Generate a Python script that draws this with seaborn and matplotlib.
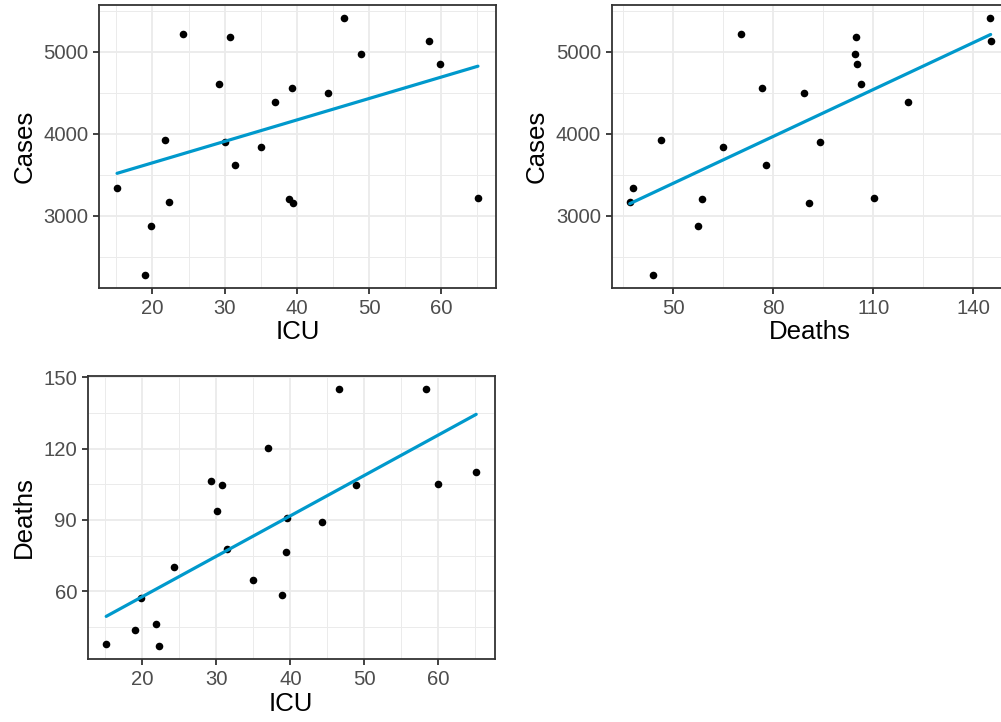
import numpy as np
import pandas as pd
import matplotlib
matplotlib.use("Agg")
import matplotlib.pyplot as plt
import seaborn as sns

# values
icu = [15.1, 19.0, 19.8, 21.8, 22.3, 24.2, 29.2, 30.1, 30.7, 31.4, 35.0,
       37.0, 38.9, 39.5, 39.4, 44.3, 46.6, 48.9, 58.3, 59.9, 65.1]
cases = [3337, 2274, 2878, 3919, 3166, 5215, 4606, 3903, 5178, 3611, 3834,
         4381, 3199, 3158, 4560, 4491, 5414, 4976, 5130, 4854, 3211]
deaths = [37.8, 43.8, 57.3, 46.2, 36.9, 70.3, 106.4, 93.9, 104.8, 77.9, 65.0,
          120.4, 58.5, 90.7, 76.5, 89.3, 145.0, 104.5, 145.2, 105.0, 110.2]

df = pd.DataFrame({"ICU": icu, "Cases": cases, "Deaths": deaths})

sns.set_theme(style="white")
plt.rcParams["font.family"] = ["Liberation Sans", "DejaVu Sans"]

LINE = "#0099CC"
W, H = 1001, 722
fig = plt.figure(figsize=(W / 100, H / 100), dpi=100)


def panel(rect, x, y, xmaj, xmin, ymaj, ymin):
    l, t, w, h = rect
    ax = fig.add_axes([l / W, 1 - (t + h) / H, w / W, h / H])
    sns.regplot(data=df, x=x, y=y, ax=ax, ci=None, truncate=True,
                scatter_kws=dict(color="black", s=30, alpha=1, linewidths=0, zorder=3),
                line_kws=dict(color=LINE, lw=2.3, zorder=4))
    ax.margins(0.05)
    ax.set_xticks(xmaj)
    ax.set_xticks(xmin, minor=True)
    ax.set_yticks(ymaj)
    ax.set_yticks(ymin, minor=True)
    ax.grid(True, which="major", color="#EBEBEB", lw=1.3, zorder=0)
    ax.grid(True, which="minor", color="#EBEBEB", lw=0.7, zorder=0)
    ax.set_axisbelow(True)
    for s in ax.spines.values():
        s.set_color("#333333")
        s.set_linewidth(1.3)
    ax.tick_params(which="major", length=4.5, width=1.3, color="#333333",
                   labelsize=14.6, labelcolor="#4D4D4D", pad=3.2,
                   left=True, bottom=True)
    ax.tick_params(which="minor", length=0)
    ax.set_xlabel(x, fontsize=18.6, color="black", labelpad=2)
    ax.set_ylabel(y, fontsize=18.6, color="black", labelpad=5)
    return ax


panel((99, 4.7, 397, 283.3), "ICU", "Cases",
      [20, 30, 40, 50, 60], [15, 25, 35, 45, 55, 65],
      [3000, 4000, 5000], [2500, 3500, 4500, 5500])
panel((611.7, 4.7, 397, 283.3), "Deaths", "Cases",
      [50, 80, 110, 140], [35, 65, 95, 125],
      [3000, 4000, 5000], [2500, 3500, 4500, 5500])
panel((87.7, 375.7, 407, 283.6), "ICU", "Deaths",
      [20, 30, 40, 50, 60], [15, 25, 35, 45, 55, 65],
      [60, 90, 120, 150], [45, 75, 105, 135])

fig.savefig("out.png", dpi=100, facecolor="white")
